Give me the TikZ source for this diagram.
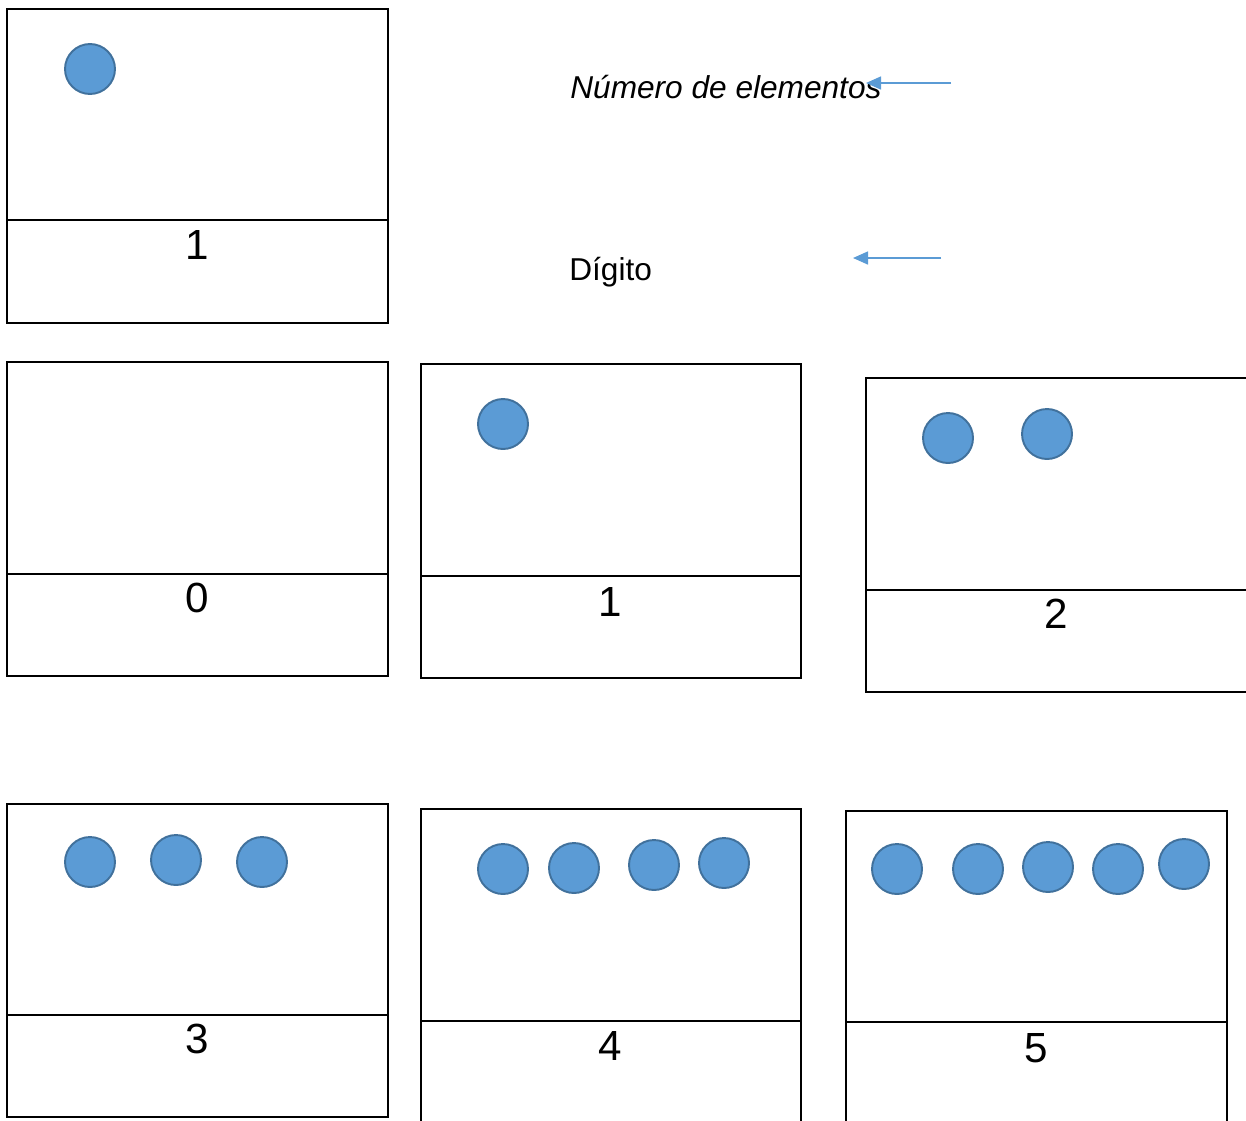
\documentclass[tikz,border=0pt]{standalone}
\usepackage{fontspec}
\setmainfont{Liberation Sans}
\usetikzlibrary{arrows.meta}
\definecolor{relleno}{HTML}{5B9BD5}
\definecolor{borde}{HTML}{41719C}

\begin{document}
\begin{tikzpicture}[
    x=0.02cm,y=-0.02cm,
    marco/.style={line width=1.25pt},
    punto/.style={circle,fill=relleno,draw=borde,line width=1.1pt,
      minimum size=1cm,inner sep=0pt},
    cifra/.style={font=\fontsize{24}{28}\selectfont,inner sep=0pt},
    rotulo/.style={font=\fontsize{18}{21}\selectfont,inner sep=0pt,anchor=base west},
    flecha/.style={draw=relleno,line width=0.85pt,
      -{Triangle[length=0.3cm,width=0.26cm]}}
  ]
  \useasboundingbox (0,0) rectangle (1246,1120);
  \clip (0,0) rectangle (1246,1120);

  % tarjeta de ejemplo
  \draw[marco] (7,9) rectangle (388,323);
  \draw[marco] (7,220) -- (388,220);
  \node[cifra] (d-ej) at (197,245) {1};
  \node[punto] (p-ej) at (90,69) {};

  % rotulos con sus flechas
  \node[rotulo] (num) at (570,98) {\itshape Número de elementos};
  \node[rotulo] (dig) at (569,280) {Dígito};
  \coordinate (f1a) at (951,83);
  \coordinate (f1b) at (866,83);
  \coordinate (f2a) at (941,258);
  \coordinate (f2b) at (853,258);
  \draw[flecha] (f1a) -- (f1b);
  \draw[flecha] (f2a) -- (f2b);

  % tarjeta 0
  \draw[marco] (7,362) rectangle (388,676);
  \draw[marco] (7,574) -- (388,574);
  \node[cifra] (d0) at (197,598) {0};

  % tarjeta 1
  \draw[marco] (421,364) rectangle (801,678);
  \draw[marco] (421,576) -- (801,576);
  \node[cifra] (d1) at (610,602) {1};
  \node[punto] (p1-1) at (503,424) {};

  % tarjeta 2
  \draw[marco] (866,378) rectangle (1260,692);
  \draw[marco] (866,590) -- (1260,590);
  \node[cifra] (d2) at (1056,614) {2};
  \foreach \x/\y [count=\i] in {948/438,1047/434}
    \node[punto] (p2-\i) at (\x,\y) {};

  % tarjeta 3
  \draw[marco] (7,804) rectangle (388,1117);
  \draw[marco] (7,1015) -- (388,1015);
  \node[cifra] (d3) at (197,1039) {3};
  \foreach \x/\y [count=\i] in {90/862,176/860,262/862}
    \node[punto] (p3-\i) at (\x,\y) {};

  % tarjeta 4
  \draw[marco] (421,809) rectangle (801,1135);
  \draw[marco] (421,1021) -- (801,1021);
  \node[cifra] (d4) at (610,1046) {4};
  \foreach \x/\y [count=\i] in {503/869,574/868,654/865,724/863}
    \node[punto] (p4-\i) at (\x,\y) {};

  % tarjeta 5
  \draw[marco] (846,811) rectangle (1227,1135);
  \draw[marco] (846,1022) -- (1227,1022);
  \node[cifra] (d5) at (1036,1048) {5};
  \foreach \x/\y [count=\i] in {897/869,978/869,1048/867,1118/869,1184/864}
    \node[punto] (p5-\i) at (\x,\y) {};
\end{tikzpicture}
\end{document}
